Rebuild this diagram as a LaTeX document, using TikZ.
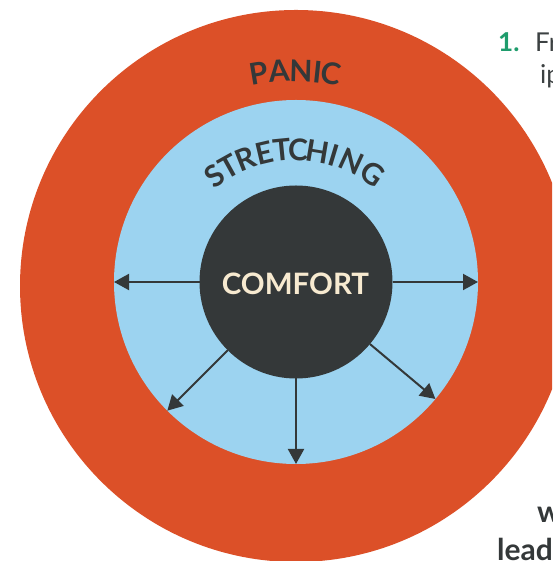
\documentclass[tikz,border=0pt]{standalone}
\usepackage{fontspec}
\setmainfont{Lato}
\usetikzlibrary{arrows.meta}
\definecolor{panicred}{HTML}{DC5028}
\definecolor{stretchblue}{HTML}{9CD3F0}
\definecolor{comfortdark}{HTML}{343839}
\definecolor{comfortcream}{HTML}{F7EAD0}
\definecolor{numgreen}{HTML}{1E9C6C}
\definecolor{bodygray}{HTML}{3C4142}
\begin{document}
\begin{tikzpicture}[x=1pt,y=1pt,
  zone/.style={circle, inner sep=0pt, outer sep=0pt},
  zonelabel/.style={font=\bfseries\fontsize{30}{30}\selectfont, text=comfortdark, inner sep=0pt, anchor=base},
  spread/.style={draw=comfortdark, line width=2pt, -{Triangle[length=15pt,width=16pt]}},
  sidetext/.style={anchor=base west, inner sep=0pt, font=\fontsize{26}{26}\selectfont, text=bodygray},
  boldside/.style={sidetext, font=\bfseries\fontsize{30}{30}\selectfont, text=comfortdark},
]
\useasboundingbox (0,0) rectangle (552,561);
\clip (0,0) rectangle (552,561);
\fill[white] (0,0) rectangle (552,561);
\node[zone, fill=panicred, minimum size=552pt] (panic) at (296,275) {};
\node[zone, fill=stretchblue, minimum size=364pt] (stretch) at (296,279) {};
\node[zone, fill=comfortdark, minimum size=193pt] (comfort) at (296,279) {};
\foreach \a in {0,180,-90,-135,-40}
  \draw[spread] (comfort.\a) -- (stretch.\a);
\node[font=\bfseries\fontsize{29.5}{29.5}\selectfont, text=comfortcream, inner sep=0pt, anchor=base] (comforttext) at (295.5,266) {COMFORT};
\foreach \ch/\ang [count=\i] in {S/-36.5, T/-29.1, R/-21.5, E/-13.2, T/-5.6, C/1.3, H/9.6, I/16.8, N/24.6, G/34.8}
  \node[zonelabel, rotate=-\ang] (st\i) at ([shift={(90-\ang:124.5)}]295,276) {\ch};
\foreach \ch/\ang [count=\i] in {P/-9.6, A/-4.3, N/1.6, I/6.0, C/9.6}
  \node[zonelabel, rotate=-\ang] (pa\i) at ([shift={(90-\ang:203.5)}]295,276) {\ch};
\node[sidetext, font=\bfseries\fontsize{26}{26}\selectfont, text=numgreen] (num) at (498,509) {1.};
\node[sidetext] (line1) at (535,509) {Fr};
\node[sidetext] (line2) at (540,477) {ip};
\node[boldside] (line3) at (537,38) {w};
\node[boldside] (line4) at (497,1) {lead};
\end{tikzpicture}
\end{document}
